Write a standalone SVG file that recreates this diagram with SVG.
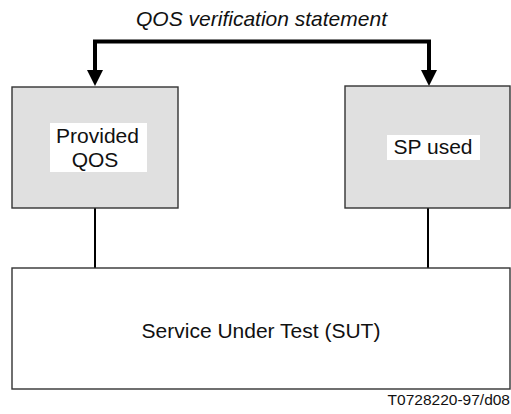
<svg xmlns="http://www.w3.org/2000/svg" width="511" height="414" viewBox="0 0 511 414">
  <defs>
    <style>
      .box { fill: #e0e0e0; stroke: #333; stroke-width: 1.4; }
      .sut { fill: #ffffff; stroke: #333; stroke-width: 1.4; }
      .label-bg { fill: #ffffff; }
      .txt { font-family: "Liberation Sans", Arial, sans-serif; font-size: 21px; fill: #111; }
      .ref { font-family: "Liberation Sans", Arial, sans-serif; font-size: 15.5px; fill: #111; }
      .link { stroke: #000; stroke-width: 2; fill: none; }
      .flow { stroke: #000; stroke-width: 4; fill: none; }
      .head { fill: #000; }
    </style>
  </defs>

  <rect width="511" height="414" fill="#ffffff"/>

  <!-- statement label -->
  <text class="txt" x="261.5" y="26" text-anchor="middle" font-style="italic">QOS verification statement</text>

  <!-- connectors -->
  <g id="connectors">
    <path class="flow" d="M95,72 V41.5 H429 V72"/>
    <polygon class="head" points="87,70 103,70 95,86"/>
    <polygon class="head" points="421,70 437,70 429,86"/>
    <line class="link" x1="95" y1="208" x2="95" y2="268"/>
    <line class="link" x1="428" y1="208" x2="428" y2="268"/>
  </g>

  <!-- Provided QOS -->
  <g id="provided-qos">
    <rect class="box" x="12" y="87" width="166" height="121"/>
    <rect class="label-bg" x="50" y="123" width="97" height="49"/>
    <text class="txt" x="97.5" y="143" text-anchor="middle">Provided</text>
    <text class="txt" x="95" y="167" text-anchor="middle">QOS</text>
  </g>

  <!-- SP used -->
  <g id="sp-used">
    <rect class="box" x="345" y="86" width="165" height="122"/>
    <rect class="label-bg" x="387" y="135" width="93" height="25"/>
    <text class="txt" x="433" y="154" text-anchor="middle">SP used</text>
  </g>

  <!-- Service Under Test -->
  <g id="sut">
    <rect class="sut" x="12" y="268" width="498" height="121"/>
    <text class="txt" x="261" y="338" text-anchor="middle">Service Under Test (SUT)</text>
  </g>

  <!-- figure reference -->
  <text class="ref" x="510" y="405" text-anchor="end">T0728220-97/d08</text>
</svg>
